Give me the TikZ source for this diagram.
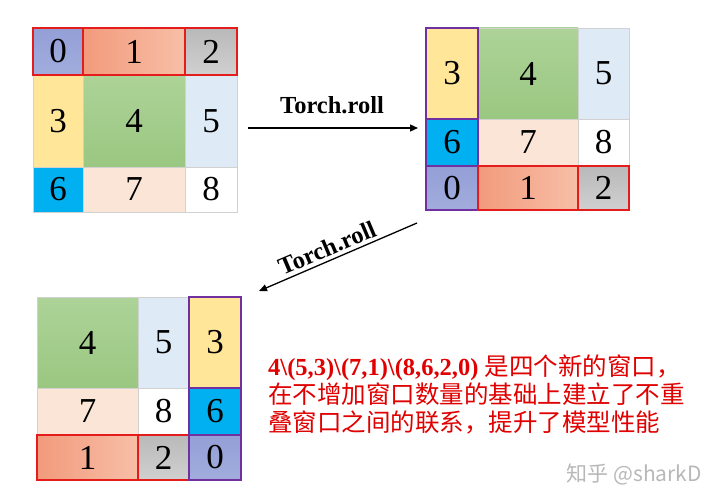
\documentclass[tikz,border=0pt]{standalone}
\usepackage{fontspec}
\setmainfont{Liberation Serif}
\newfontfamily\cjk{Noto Sans CJK SC}
\usetikzlibrary{arrows.meta}
\definecolor{zA}{HTML}{939FD6}
\definecolor{zB}{HTML}{A2ADDD}
\definecolor{oA}{HTML}{F29A7C}
\definecolor{oB}{HTML}{F7BFA7}
\definecolor{gA}{HTML}{B9B9B9}
\definecolor{gB}{HTML}{D0D0D0}
\definecolor{yel}{HTML}{FFE699}
\definecolor{grA}{HTML}{ADD398}
\definecolor{grB}{HTML}{9AC781}
\definecolor{lbl}{HTML}{DEEBF7}
\definecolor{cyan6}{HTML}{00B0F0}
\definecolor{peach}{HTML}{FBE5D6}
\definecolor{myred}{HTML}{E41C1C}
\definecolor{mypurple}{HTML}{7030A0}
\definecolor{txtred}{HTML}{E00000}
\tikzset{
  cellbox/.style={inner sep=0pt, outer sep=0pt, anchor=north west, draw=black!18, line width=0.6pt,
    font=\fontsize{35}{40}\selectfont},
  c0/.style={top color=zA, bottom color=zB},
  c1/.style={left color=oA, right color=oB},
  c2/.style={top color=gA, bottom color=gB},
  c3/.style={fill=yel},
  c4/.style={top color=grA, bottom color=grB},
  c5/.style={fill=lbl},
  c6/.style={fill=cyan6},
  c7/.style={fill=peach},
  c8/.style={fill=white},
  redbox/.style={draw=myred, line width=2.6pt},
  purbox/.style={draw=mypurple, line width=2.6pt},
  arr/.style={draw=black, line width=1.3pt, -{Triangle[length=8pt,width=7pt]}},
  tlabel/.style={font=\fontsize{24.5}{27}\selectfont\bfseries, inner sep=0pt},
  note/.style={font=\fontsize{24.5}{28}\selectfont, text=txtred, inner sep=0pt, anchor=base west},
}
\newcommand\mkcell[7]{\node[cellbox,#6,minimum width=#4pt,minimum height=#5pt] (#1) at (#2,#3) {#7};}
\newcommand\boxit[2]{\draw[#1] (#2.north west) rectangle (#2.south east);}
\begin{document}
\begin{tikzpicture}[x=1pt,y=-1pt]
\useasboundingbox (0,0) rectangle (720,500);
\fill[white] (0,0) rectangle (720,500);
% top-left grid
\mkcell{A0}{33}{28}{50}{47}{c0}{0}
\mkcell{A1}{83}{28}{102}{47}{c1}{1}
\mkcell{A2}{185}{28}{52}{47}{c2}{2}
\mkcell{A3}{33}{75}{50}{92}{c3}{3}
\mkcell{A4}{83}{75}{102}{92}{c4}{4}
\mkcell{A5}{185}{75}{52}{92}{c5}{5}
\mkcell{A6}{33}{167}{50}{45}{c6}{6}
\mkcell{A7}{83}{167}{102}{45}{c7}{7}
\mkcell{A8}{185}{167}{52}{45}{c8}{8}
\boxit{redbox}{A0}
\boxit{redbox}{A1}
\boxit{redbox}{A2}
% top-right grid
\mkcell{B3}{426}{28}{52}{91}{c3}{3}
\mkcell{B4}{478}{28}{100}{91}{c4}{4}
\mkcell{B5}{578}{28}{51}{91}{c5}{5}
\mkcell{B6}{426}{119}{52}{47}{c6}{6}
\mkcell{B7}{478}{119}{100}{47}{c7}{7}
\mkcell{B8}{578}{119}{51}{47}{c8}{8}
\mkcell{B0}{426}{166}{52}{44}{c0}{0}
\mkcell{B1}{478}{166}{100}{44}{c1}{1}
\mkcell{B2}{578}{166}{51}{44}{c2}{2}
\boxit{purbox}{B3}
\boxit{purbox}{B6}
\boxit{purbox}{B0}
\boxit{redbox}{B1}
\boxit{redbox}{B2}
% bottom-left grid
\mkcell{C4}{37}{297}{101}{91}{c4}{4}
\mkcell{C5}{138}{297}{51}{91}{c5}{5}
\mkcell{C3}{189}{297}{52}{91}{c3}{3}
\mkcell{C7}{37}{388}{101}{47}{c7}{7}
\mkcell{C8}{138}{388}{51}{47}{c8}{8}
\mkcell{C6}{189}{388}{52}{47}{c6}{6}
\mkcell{C1}{37}{435}{101}{45}{c1}{1}
\mkcell{C2}{138}{435}{51}{45}{c2}{2}
\mkcell{C0}{189}{435}{52}{45}{c0}{0}
\boxit{redbox}{C1}
\boxit{redbox}{C2}
\boxit{purbox}{C3}
\boxit{purbox}{C6}
\boxit{purbox}{C0}
% arrows
\coordinate (r1s) at (248,128);
\coordinate (r1e) at (418,128);
\draw[arr] (r1s) -- (r1e);
\node[tlabel, anchor=base] (t1) at (332,114) {Torch.roll};
\coordinate (r2s) at (417,223);
\coordinate (r2e) at (259,291);
\draw[arr] (r2s) -- (r2e);
\node[tlabel, rotate=23] (t2) at (327,248) {Torch.roll};
% note
\node[note] (n1) at (268,375) {\textbf{4\textbackslash(5,3)\textbackslash(7,1)\textbackslash(8,6,2,0)} {\cjk 是四个新的窗口，}};
\node[note] (n2) at (268,403) {\cjk 在不增加窗口数量的基础上建立了不重};
\node[note] (n3) at (268,431) {\cjk 叠窗口之间的联系，提升了模型性能};
% watermark
\node[font=\cjk\fontsize{21}{24}\selectfont, text=black!28, anchor=base east, inner sep=0pt] (wm) at (702,481) {知乎 @sharkD};
\end{tikzpicture}
\end{document}
